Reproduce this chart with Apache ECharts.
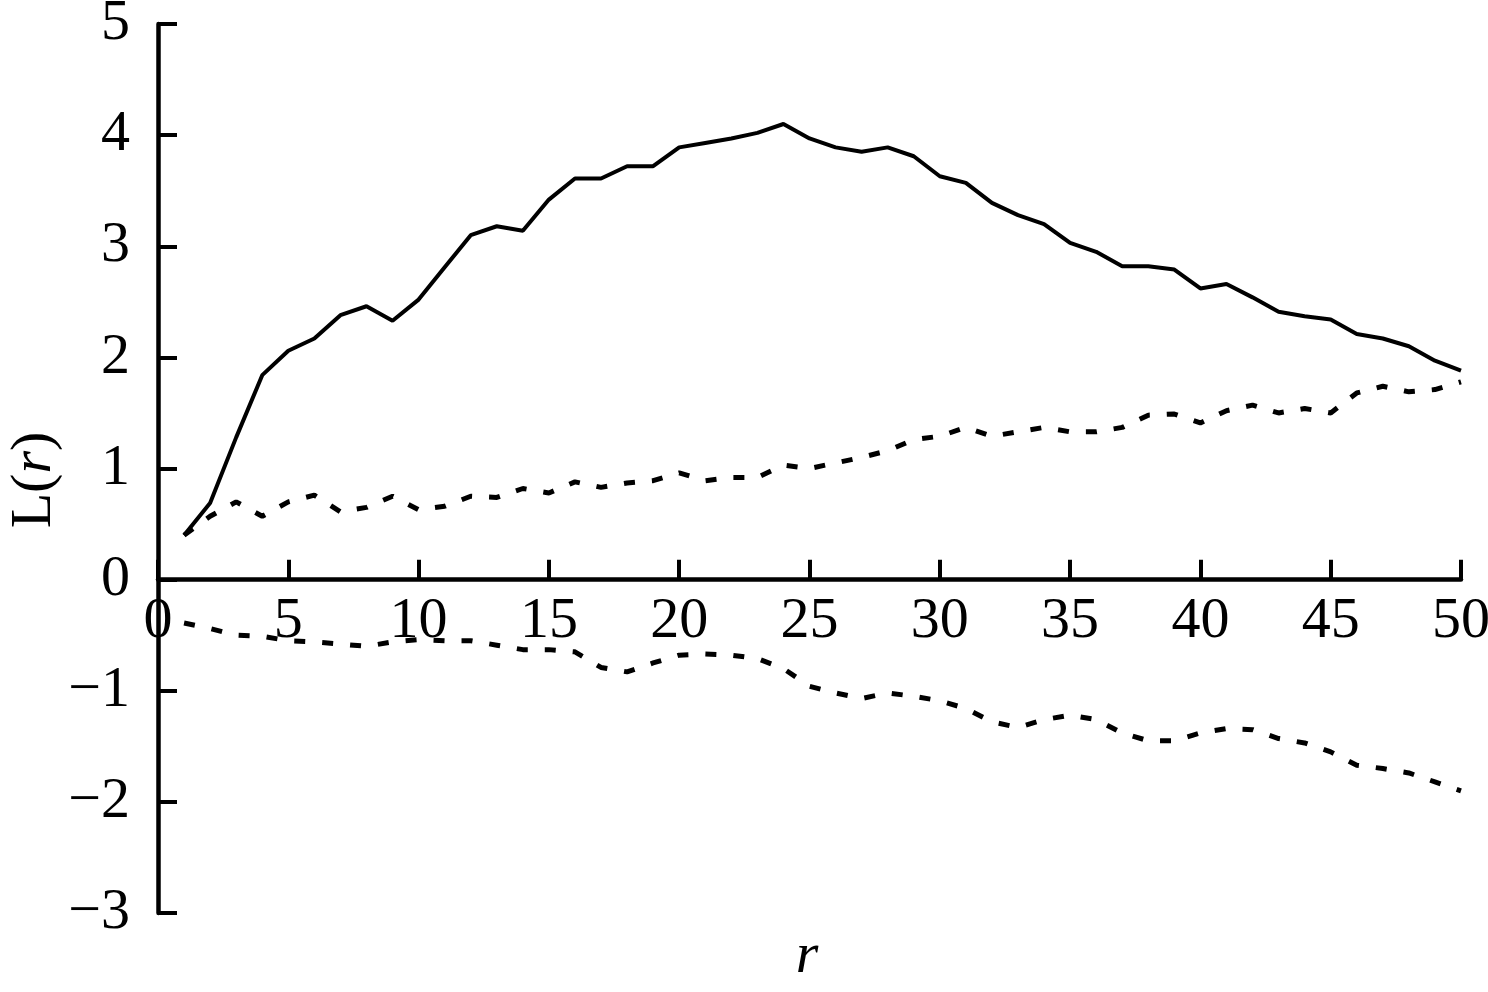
<!DOCTYPE html>
<html>
<head>
<meta charset="utf-8">
<title>L(r)</title>
<script src="https://cdn.jsdelivr.net/npm/echarts@6/dist/echarts.min.js"></script>
<style>
  html, body { margin: 0; padding: 0; background: #fff; }
  #main { width: 1488px; height: 992px; }
</style>
</head>
<body>
<div id="main"></div>
<script>
// r = 1..50
var rValues = [];
for (var k = 1; k <= 50; k++) rValues.push(k);

// observed L(r)
var observed = [0.40, 0.69, 1.28, 1.84, 2.06, 2.17, 2.38, 2.46, 2.33, 2.52,
                2.81, 3.10, 3.18, 3.14, 3.42, 3.61, 3.61, 3.72, 3.72, 3.89,
                3.93, 3.97, 4.02, 4.10, 3.97, 3.89, 3.85, 3.89, 3.81, 3.63,
                3.57, 3.39, 3.28, 3.20, 3.03, 2.95, 2.82, 2.82, 2.79, 2.62,
                2.66, 2.54, 2.41, 2.37, 2.34, 2.21, 2.17, 2.10, 1.97, 1.88];

// upper envelope
var upper = [0.40, 0.57, 0.70, 0.57, 0.70, 0.76, 0.61, 0.65, 0.75, 0.63,
             0.66, 0.75, 0.74, 0.82, 0.78, 0.88, 0.83, 0.87, 0.89, 0.96,
             0.89, 0.92, 0.92, 1.03, 1.00, 1.05, 1.10, 1.16, 1.26, 1.29,
             1.37, 1.29, 1.33, 1.37, 1.33, 1.33, 1.37, 1.48, 1.49, 1.41,
             1.52, 1.57, 1.50, 1.54, 1.50, 1.68, 1.74, 1.69, 1.71, 1.78];

// lower envelope
var lower = [-0.39, -0.44, -0.50, -0.51, -0.55, -0.56, -0.58, -0.60, -0.56, -0.54,
             -0.55, -0.55, -0.59, -0.63, -0.63, -0.65, -0.79, -0.83, -0.75, -0.68,
             -0.67, -0.68, -0.71, -0.80, -0.96, -1.02, -1.07, -1.02, -1.05, -1.09,
             -1.16, -1.28, -1.33, -1.26, -1.22, -1.26, -1.38, -1.45, -1.45, -1.38,
             -1.34, -1.35, -1.43, -1.47, -1.55, -1.67, -1.70, -1.74, -1.82, -1.90];

function pairs(vals) {
    return rValues.map(function (r, i) { return [r, vals[i]]; });
}

var fontFam = '"Liberation Serif", "Times New Roman", serif';
var yMin = -3, yMax = 5;
var gridTop = 24, gridBottom = 79, chartH = 992;
// move x axis up from the bottom edge to y = 0
var plotH = chartH - gridTop - gridBottom;
var xAxisOffset = -plotH * (0 - yMin) / (yMax - yMin);

var myChart = echarts.init(document.getElementById('main'));
var option = {
    backgroundColor: '#fff',
    animation: false,
    grid: {
        left: 158, right: 27, top: gridTop, bottom: gridBottom,
        containLabel: false, outerBoundsMode: 'none'
    },
    xAxis: {
        type: 'value',
        position: 'bottom',
        offset: xAxisOffset,
        min: 0, max: 50, interval: 5,
        splitLine: { show: false },
        axisLine: { onZero: false, lineStyle: { color: '#000', width: 4.5 } },
        axisTick: { show: true, inside: true, length: 20, lineStyle: { color: '#000', width: 4 } },
        axisLabel: { margin: 13, color: '#000', fontSize: 58, fontFamily: fontFam }
    },
    yAxis: {
        type: 'value',
        min: yMin, max: yMax, interval: 1,
        splitLine: { show: false },
        axisLine: { show: true, onZero: false, lineStyle: { color: '#000', width: 4.5 } },
        axisTick: { show: true, inside: true, length: 19, lineStyle: { color: '#000', width: 4 } },
        axisLabel: {
            margin: 28, color: '#000', fontSize: 58, fontFamily: fontFam,
            formatter: function (v) { return v < 0 ? '\u2212' + Math.abs(v) : String(v); }
        }
    },
    graphic: [
        {
            type: 'text', x: 35, y: 480, rotation: Math.PI / 2,
            style: {
                text: '{a|L(}{i|r}{a|)}',
                align: 'center', verticalAlign: 'middle',
                rich: {
                    a: { fontSize: 58, fontFamily: fontFam, fill: '#000' },
                    i: { fontSize: 58, fontFamily: fontFam, fontStyle: 'italic', fill: '#000' }
                }
            }
        },
        {
            type: 'text', x: 807, y: 957,
            style: {
                text: 'r', fill: '#000',
                font: 'italic 58px ' + fontFam,
                align: 'center', verticalAlign: 'middle'
            }
        }
    ],
    series: [
        {
            name: 'L(r)', type: 'line', data: pairs(observed),
            symbol: 'none', lineStyle: { color: '#000', width: 4 }
        },
        {
            name: 'upper', type: 'line', data: pairs(upper),
            symbol: 'none', lineStyle: { color: '#000', width: 5, type: [11, 17] }
        },
        {
            name: 'lower', type: 'line', data: pairs(lower),
            symbol: 'none', lineStyle: { color: '#000', width: 5, type: [11, 17] }
        }
    ]
};
myChart.setOption(option);
</script>
</body>
</html>
